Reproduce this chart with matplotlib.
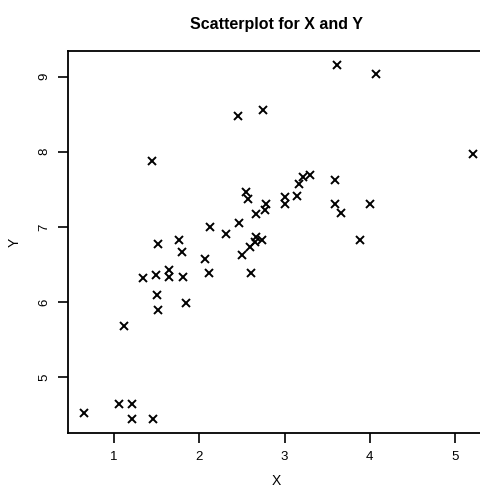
import matplotlib
matplotlib.use("Agg")
import matplotlib.pyplot as plt

x = [0.65, 1.06, 1.21, 1.21, 1.46, 1.12, 1.51, 1.50, 1.85, 1.34,
     1.49, 1.64, 1.65, 1.81, 1.52, 1.76, 1.80, 2.07, 2.11, 2.13,
     1.45, 2.31, 2.47, 2.50, 2.60, 2.61, 2.65, 2.67, 2.74, 2.66,
     2.77, 2.78, 2.55, 2.57, 3.00, 3.01, 3.15, 3.17, 3.22, 3.30,
     2.45, 2.75, 3.61, 4.07, 5.21, 3.59, 3.59, 3.66, 4.00, 3.88]
y = [4.53, 4.65, 4.65, 4.44, 4.45, 5.68, 5.90, 6.09, 5.99, 6.32,
     6.36, 6.43, 6.33, 6.34, 6.77, 6.83, 6.67, 6.58, 6.39, 7.00,
     7.88, 6.91, 7.05, 6.63, 6.74, 6.39, 6.80, 6.87, 6.82, 7.17,
     7.23, 7.31, 7.46, 7.37, 7.30, 7.40, 7.41, 7.57, 7.66, 7.69,
     8.47, 8.56, 9.15, 9.03, 7.97, 7.62, 7.31, 7.19, 7.31, 6.82]
xticks = [1, 2, 3, 4, 5]
yticks = [5, 6, 7, 8, 9]

plt.rcParams['font.family'] = ['Liberation Sans', 'DejaVu Sans']

fig = plt.figure(figsize=(4.8, 4.88), dpi=100, facecolor='white')
ax = fig.add_axes([68/480, 55/488, 416/480, 382/488])

ax.plot(x, y, 'x', color='black', markersize=5.5, markeredgewidth=1.4)

ax.set_xlim(0.46, 5.34)
ax.set_ylim(4.26, 9.34)
ax.set_xticks(xticks)
ax.set_yticks(yticks)
ax.set_xticklabels([str(t) for t in xticks])
ax.set_yticklabels([str(t) for t in yticks], rotation=90, va='center')
ax.tick_params(direction='out', length=7, width=1.2, labelsize=9.5, pad=6)

for s in ax.spines.values():
    s.set_linewidth(1.3)

ax.set_xlabel('X', fontsize=10, labelpad=8)
ax.set_ylabel('Y', fontsize=10, labelpad=12)
ax.set_title('Scatterplot for X and Y', fontsize=11.5, fontweight='bold', pad=16)

fig.savefig('out.png', dpi=100)
